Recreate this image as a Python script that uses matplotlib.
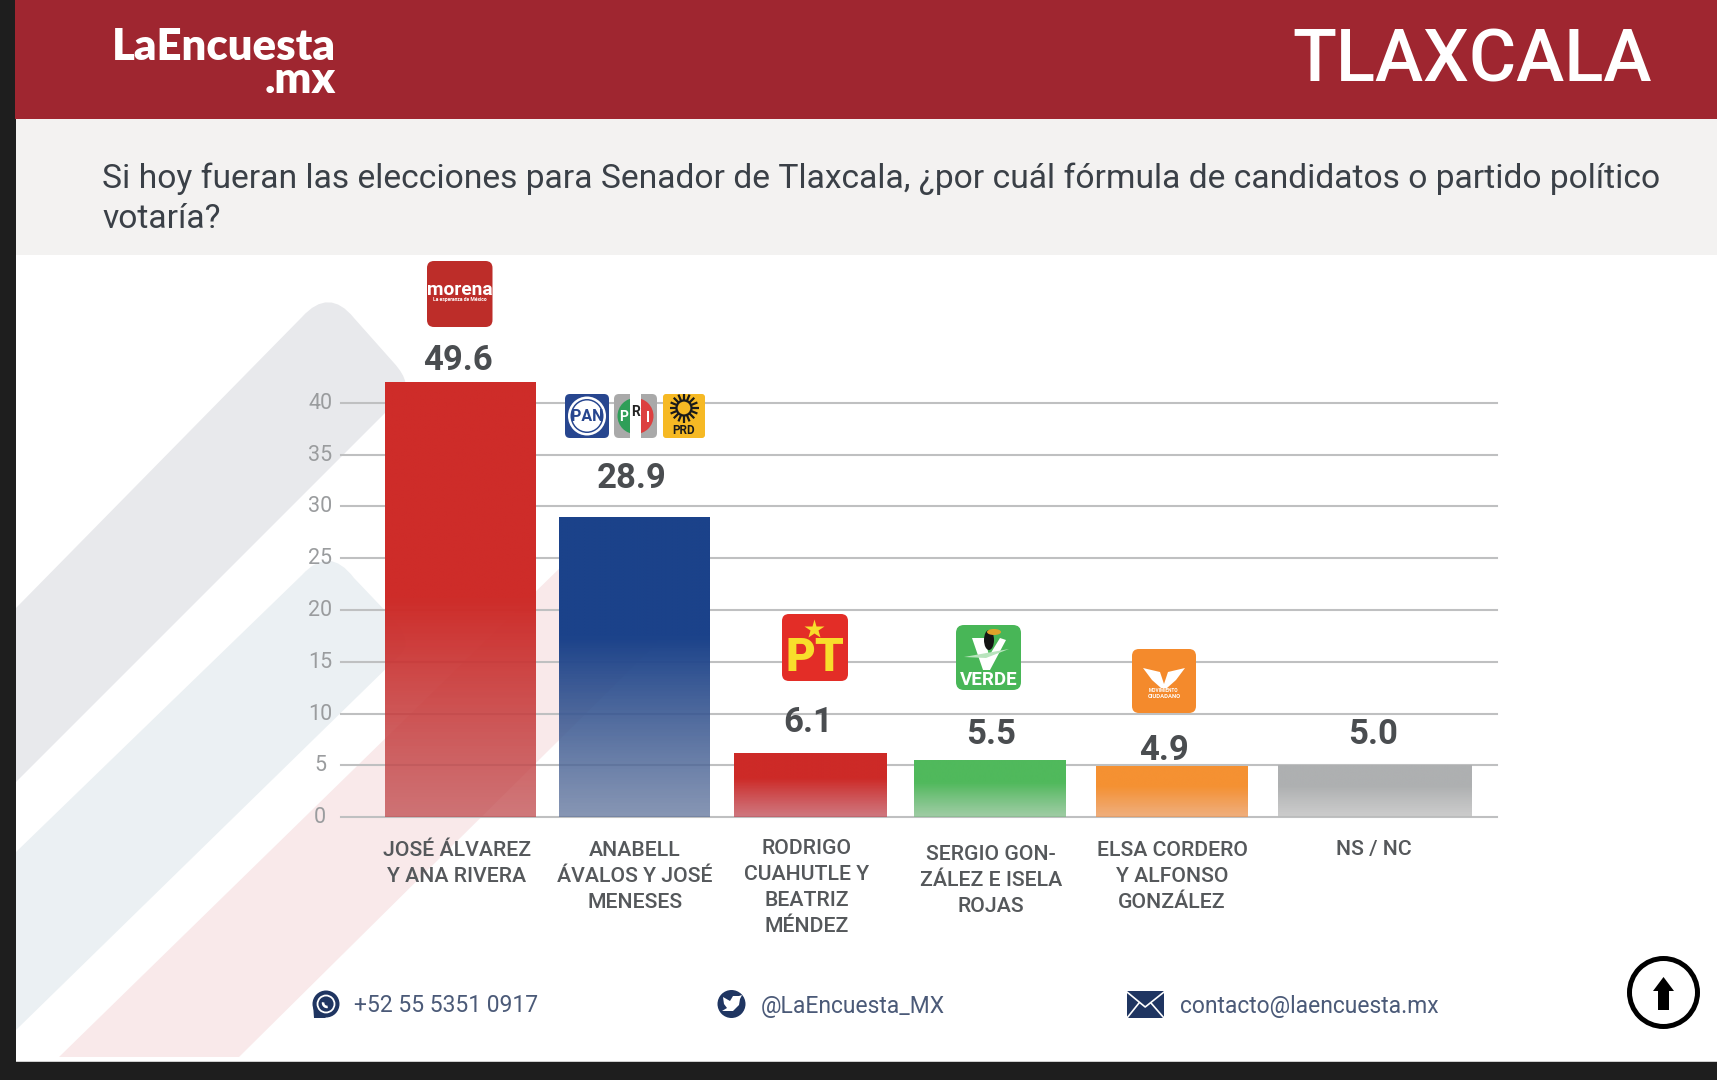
import numpy as np
import matplotlib
matplotlib.use("Agg")
import matplotlib.pyplot as plt
from matplotlib.patches import FancyBboxPatch, PathPatch, Rectangle, Circle, Ellipse, Polygon, Wedge
from matplotlib.path import Path
from matplotlib.colors import to_rgb
from matplotlib.transforms import ScaledTranslation

plt.rcParams['font.family'] = ['Roboto', 'DejaVu Sans']

# Poll results
categories = [
    ["JOSÉ ÁLVAREZ", "Y ANA RIVERA"],
    ["ANABELL", "ÁVALOS Y JOSÉ", "MENESES"],
    ["RODRIGO", "CUAHUTLE Y", "BEATRIZ", "MÉNDEZ"],
    ["SERGIO GON-", "ZÁLEZ E ISELA", "ROJAS"],
    ["ELSA CORDERO", "Y ALFONSO", "GONZÁLEZ"],
    ["NS / NC"],
]
values = [49.6, 28.9, 6.1, 5.5, 4.9, 5.0]
y_ticks = [0, 5, 10, 15, 20, 25, 30, 35, 40]

# Styling and layout, in figure pixels
bar_colors = ["#ce2c29", "#1b428a", "#cd2a27", "#50b95c", "#f59132", "#aeb0b1"]
fade_colors = ["#c04b4e", "#5f739b", "#c04b55", "#80bc87", "#eb9452", "#bcbcbc"]
FADE_ALPHA = 0.75
bar_widths = [151, 151, 152, 152, 152, 194]
bar_gaps = [44, 23, 24, 28, 30, 30]          # space before each bar
label_x = [458, 632, 808, 991, 1164, 1373]
label_y = [360, 478, 723, 735, 750, 735]
cat_x = [457, 635, 807, 991, 1172, 1374]
cat_y0 = [851, 851, 849, 855, 851, 850]
CAT_LEAD = 26
W, H = 1717, 1080
AX_L, AX_R, AX_TOP, AX_BASE = 341, 1497, 382, 817
PX_PER_UNIT = 10.35

NAVY = "#1f3561"
FOOT = "#4b5a78"
INK = "#4a4d50"

fig = plt.figure(figsize=(W / 100, H / 100), dpi=100, facecolor="#1e1e1e")

# Backdrop: page panels and diagonal ribbons
bg = fig.add_axes([0, 0, 1, 1], zorder=0)
bg.set_xlim(0, W)
bg.set_ylim(H, 0)
bg.axis("off")
bg.add_patch(Rectangle((15, 0), W - 15, 119, fc="#9f2630", ec="none"))
bg.add_patch(Rectangle((16, 119), W - 16, 136, fc="#f3f2f1", ec="none"))
bg.add_patch(Rectangle((16, 255), W - 16, 806, fc="white", ec="none"))
bg.add_patch(Rectangle((16, 1060.5), W - 16, 1.5, fc="#cfcfcf", ec="none"))


def ribbon(verts, color):
    codes = [Path.MOVETO, Path.LINETO, Path.LINETO, Path.CURVE3, Path.CURVE3, Path.LINETO,
             Path.CURVE3, Path.CURVE3, Path.LINETO, Path.CLOSEPOLY]
    bg.add_patch(PathPatch(Path(verts, codes), fc=color, ec="none"))


ribbon([(16, 782), (16, 608), (302, 317), (329, 287), (354, 318), (394, 363),
        (414, 385), (400, 398), (16, 782), (16, 782)], "#e8e9ec")
ribbon([(16, 1030), (16, 852), (302, 575), (329, 545), (354, 578), (394, 620),
        (414, 642), (400, 655), (16, 1030), (16, 1030)], "#ebf0f3")
ribbon([(59, 1057), (59, 1057), (565, 563), (592, 535), (618, 565), (650, 610),
        (672, 632), (650, 650), (239, 1057), (59, 1057)], "#f9e9ea")

# Bar chart: the y limit cuts the tallest bar off just above the last tick
ax = fig.add_axes([AX_L / W, 1 - AX_BASE / H, (AX_R - AX_L) / W, (AX_BASE - AX_TOP) / H],
                  zorder=1, facecolor="none")
y_top = (AX_BASE - AX_TOP) / PX_PER_UNIT
lefts = np.cumsum(bar_gaps) + AX_L + np.r_[0, np.cumsum(bar_widths)[:-1]]
bars = ax.bar(lefts, values, width=bar_widths, align="edge", facecolor="none", edgecolor="none", zorder=3)
for rect, value, color, fade in zip(bars, values, bar_colors, fade_colors):
    visible = min(value, y_top)
    fade_top = min(0.6 * visible, 21.0)
    rows = np.linspace(visible, 0, 400)
    t = np.clip(rows / fade_top, 0, 1)[:, None]
    rgba = np.ones((400, 1, 4))
    rgba[:, :, :3] = t[:, None] * np.array(to_rgb(color)) + (1 - t[:, None]) * np.array(to_rgb(fade))
    rgba[:, :, 3] = FADE_ALPHA + (1 - FADE_ALPHA) * t
    ax.imshow(rgba, extent=(rect.get_x(), rect.get_x() + rect.get_width(), 0, visible),
              aspect="auto", zorder=3, interpolation="bilinear")
ax.set_xlim(AX_L, AX_R)
ax.set_ylim(0, y_top)
for side in ax.spines.values():
    side.set_visible(False)
ax.set_xticks([])
ax.set_yticks(y_ticks)
ax.set_axisbelow(True)
ax.grid(axis="y", color="#bfc0c1", lw=1.5)
for gl in ax.get_ygridlines():
    gl.set_clip_on(False)
ax.tick_params(axis="y", length=0, pad=15, labelsize=15.5, labelcolor="#9a9c9e")
lift = ScaledTranslation(0, 2 / 100, fig.dpi_scale_trans)
for lab in ax.get_yticklabels():
    lab.set_ha("center")
    lab.set_transform(lab.get_transform() + lift)

# Everything placed on top of the chart, in pixel coordinates
ov = fig.add_axes([0, 0, 1, 1], zorder=2, facecolor="none")
ov.set_xlim(0, W)
ov.set_ylim(H, 0)
ov.axis("off")


def rbox(x0, y0, x1, y1, r, color, **kw):
    ov.add_patch(FancyBboxPatch((x0 + r, y0 + r), x1 - x0 - 2 * r, y1 - y0 - 2 * r,
                                boxstyle=f"round,pad={r},rounding_size={r}", fc=color, ec="none", **kw))


def px_text(x, y, s, size, color="white", weight="normal", ha="center", va="center", **kw):
    return ov.text(x, y, s, fontsize=size, color=color, fontweight=weight, ha=ha, va=va, **kw)


# Header
px_text(336, 27.5, "LaEncuesta\n.mx", 31.4, weight="heavy", ha="right", va="top", family="Lato",
        multialignment="right", linespacing=0.78)
px_text(1652, 81, "TLAXCALA", 52, weight="medium", ha="right", va="baseline")
question = ("Si hoy fueran las elecciones para Senador de Tlaxcala, "
            "¿por cuál fórmula de candidatos o partido político")
px_text(102, 179, question, 24.24, color="#3a4047", ha="left")
px_text(102, 219, "votaría?", 24.24, color="#3a4047", ha="left")

# Value labels and candidate names
for x, y, v in zip(label_x, label_y, values):
    px_text(x, y, f"{v:.1f}", 25, color=INK, weight="bold")
for x, y0, lines in zip(cat_x, cat_y0, categories):
    for i, line in enumerate(lines):
        px_text(x, y0 + i * CAT_LEAD, line, 15.3, color="#55585b", weight="medium")

# Morena
rbox(427, 261, 492.5, 327, 7, "#bd2d29")
px_text(459.5, 290, "morena", 13.8, weight="bold")
px_text(459.5, 300, "La esperanza de México", 3.6, weight="bold")

# PAN
rbox(565, 394, 609, 438, 5, "#27468f")
ov.add_patch(Ellipse((587, 416), 38, 39, fc="white", ec="none"))
ov.add_patch(Ellipse((587, 416), 33, 34, fc="#27468f", ec="none"))
ov.add_patch(Ellipse((587, 416), 30, 31, fc="white", ec="none"))
px_text(587, 416.5, "PAN", 11.5, color="#27468f", weight="bold")

# PRI: grey tile, oval split green / white / red
rbox(614, 394, 657, 438, 5, "#a9a9a9")
ov.add_patch(Rectangle((630, 394), 11, 44, fc="white", ec="none"))
oval_g = Ellipse((635.5, 416), 36, 36, fc="#2f9e58", ec="none")
oval_r = Ellipse((635.5, 416), 36, 36, fc="#dc4040", ec="none")
ov.add_patch(oval_g)
ov.add_patch(oval_r)
oval_g.set_clip_path(Rectangle((614, 394), 16, 44, transform=ov.transData))
oval_r.set_clip_path(Rectangle((641, 394), 16, 44, transform=ov.transData))
px_text(623.5, 417, "P", 10, weight="bold")
px_text(635.5, 412, "R", 10, color="#222222", weight="bold")
px_text(647.5, 418, "I", 10, weight="bold")

# PRD
rbox(663, 394, 705, 438, 3, "#f6b924")
sun_angles = np.arange(0, 360, 22.5)
for a in np.radians(sun_angles):
    ov.plot([684 + 7 * np.cos(a), 684 + 14.5 * np.cos(a)], [408 + 7 * np.sin(a), 408 + 14.5 * np.sin(a)],
            color="#1a1a1a", lw=1.6, solid_capstyle="butt")
ov.add_patch(Circle((684, 408), 7.5, fc="#f6b924", ec="#1a1a1a", lw=1.6))
px_text(684, 430, "PRD", 8.5, color="#1a1a1a", weight="bold")

# PT
rbox(782, 614, 848, 681, 7, "#e32d27")
ov.plot([814], [629], marker="*", ms=15, color="#f8de2b", mec="none")
px_text(815, 658, "PT", 33, color="#f8de2b", weight="black")

# Verde
rbox(956, 625, 1021, 690, 8, "#48b657")
ov.add_patch(Polygon([(972, 638), (985, 638), (989, 656), (1000, 638), (1006, 640), (990, 670), (983, 670)],
                     fc="white", ec="none"))
ov.add_patch(Ellipse((989, 640), 10, 20, fc="#141414", ec="none"))
ov.add_patch(Ellipse((994, 632), 14, 6, fc="#e0a32a", ec="none"))
ov.add_patch(Polygon([(964, 657), (1009, 649), (986, 658)], fc="#b8e4bd", ec="none"))
px_text(988.5, 680, "VERDE", 13.5, weight="bold")

# Movimiento Ciudadano
rbox(1132, 649, 1196, 713, 7, "#f48a2c")
ov.add_patch(Polygon([(1143, 668), (1160, 672), (1164, 684), (1168, 672), (1185, 668),
                      (1176, 680), (1167, 688), (1161, 688), (1152, 680)], fc="white", ec="none"))
px_text(1164, 691, "MOVIMIENTO", 3.4, weight="bold")
px_text(1164, 696, "CIUDADANO", 4.2, weight="bold")

# Footer contacts
px_text(354, 1006, "+52 55 5351 0917", 16.5, color=FOOT, ha="left")
px_text(761, 1006, "@LaEncuesta_MX", 16.5, color=FOOT, ha="left")
px_text(1180, 1006.5, "contacto@laencuesta.mx", 16.5, color=FOOT, ha="left")

# WhatsApp icon
ov.add_patch(Circle((326, 1004), 13.5, fc=NAVY, ec="none"))
ov.add_patch(Polygon([(313, 1004), (314, 1018), (326, 1018)], fc=NAVY, ec="none"))
ov.add_patch(Circle((326, 1004), 8.5, fc="none", ec="white", lw=1.3))
ov.add_patch(Wedge((327, 1003), 5.2, 80, 190, width=2.6, fc="white", ec="none"))

# Twitter icon
ov.add_patch(Circle((731.5, 1004), 14, fc=NAVY, ec="none"))
ov.add_patch(Polygon([(723, 997), (730, 1001), (733, 996), (739, 996), (742, 995), (740, 999), (739, 1005),
                      (733, 1011), (722, 1011), (727, 1008), (724, 1004)], fc="white", ec="none"))

# Mail icon
ov.add_patch(Rectangle((1126.5, 991), 37.5, 27, fc=NAVY, ec="none"))
ov.plot([1127, 1145.2, 1164], [992, 1007, 992], color="white", lw=1.2)
ov.plot([1127, 1139], [1018, 1003], color="white", lw=1.2)
ov.plot([1164, 1151], [1018, 1003], color="white", lw=1.2)

# Back-to-top button
ov.add_patch(Circle((1663.5, 992.5), 34, fc="white", ec="black", lw=3.6))
ov.add_patch(Polygon([(1663.5, 977), (1674, 991), (1669, 991), (1669, 1010), (1658, 1010), (1658, 991), (1653, 991)],
                     fc="black", ec="none"))

fig.savefig("out.png", dpi=100, facecolor=fig.get_facecolor())
